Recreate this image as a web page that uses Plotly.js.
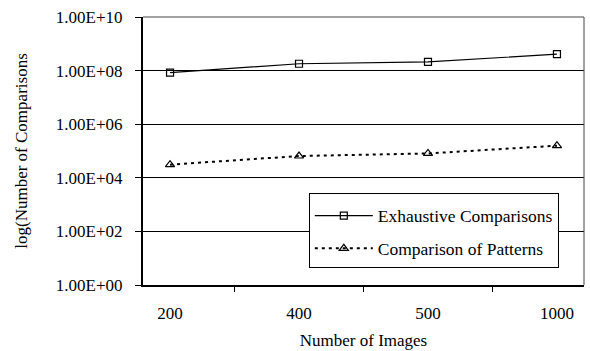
<!DOCTYPE html>
<html>
<head>
<meta charset="utf-8">
<script src="https://cdn.plot.ly/plotly-3.0.1.min.js"></script>
<style>html,body{margin:0;padding:0;background:#fff}#chart{width:590px;height:351px}</style>
</head>
<body>
<div id="chart"></div>
<script>
const categories = ["200", "400", "500", "1000"];
const exhaustive = [8.4e7, 1.8e8, 2.1e8, 4.1e8];
const patterns = [3.1e4, 6.5e4, 8.1e4, 1.58e5];
const yTickVals = [1, 1e2, 1e4, 1e6, 1e8, 1e10];
const yTickText = ["1.00E+00", "1.00E+02", "1.00E+04", "1.00E+06", "1.00E+08", "1.00E+10"];

const font = {family: "'Liberation Serif', serif", color: "#000"};
const f = (s) => Object.assign({size: s}, font);

const traces = [
  {
    x: categories, y: exhaustive, name: "Exhaustive Comparisons", type: "scatter", mode: "lines+markers",
    legendgroup: "a",
    line: {color: "#000", width: 1.2},
    marker: {symbol: "square-open", size: 7, color: "#000", line: {width: 1.2, color: "#000"}}
  },
  {
    x: categories, y: patterns, name: "Comparison of Patterns", type: "scatter", mode: "lines+markers",
    legendgroup: "b",
    line: {color: "#000", width: 2, dash: "3px,4px"},
    marker: {symbol: "triangle-up-open", size: 8, color: "#000", line: {width: 1.2, color: "#000"}}
  }
];

const layout = {
  width: 590, height: 351,
  margin: {l: 143, r: 6, t: 17, b: 66},
  paper_bgcolor: "#fff", plot_bgcolor: "#fff",
  font: f(17),
  showlegend: true,
  legend: {
    x: 0.376, y: 0.344, xanchor: "left", yanchor: "top",
    bgcolor: "#fff", bordercolor: "#000", borderwidth: 1,
    font: f(17.5),
    title: {text: " ", font: f(3)},
    itemwidth: 58,
    tracegroupgap: 7
  },
  xaxis: {
    type: "category", tickson: "boundaries", ticks: "outside", ticklen: 5, tickcolor: "#000", tickwidth: 1,
    showline: true, linecolor: "#000", linewidth: 2, mirror: false, showgrid: false, zeroline: false,
    tickfont: f(17), ticklabelstandoff: 12,
    title: {text: "Number of Images", font: f(17), standoff: 12}
  },
  yaxis: {
    type: "log", range: [0, 10], tickvals: yTickVals, ticktext: yTickText,
    ticks: "outside", ticklen: 6, tickcolor: "#000", tickwidth: 1,
    showline: true, linecolor: "#000", linewidth: 2, showgrid: true, gridcolor: "#000", gridwidth: 1,
    zeroline: false,
    tickfont: f(17), ticklabelstandoff: 9,
    title: {text: "log(Number of Comparisons", font: f(17), standoff: 24}
  },
  shapes: [
    {type: "line", xref: "paper", yref: "paper", x0: 0, x1: 1, y0: 1, y1: 1, line: {color: "#444", width: 1}},
    {type: "line", xref: "paper", yref: "paper", x0: 1, x1: 1, y0: 0, y1: 1, line: {color: "#444", width: 1}}
  ]
};

Plotly.newPlot("chart", traces, layout, {displayModeBar: false, staticPlot: true});
</script>
</body>
</html>
